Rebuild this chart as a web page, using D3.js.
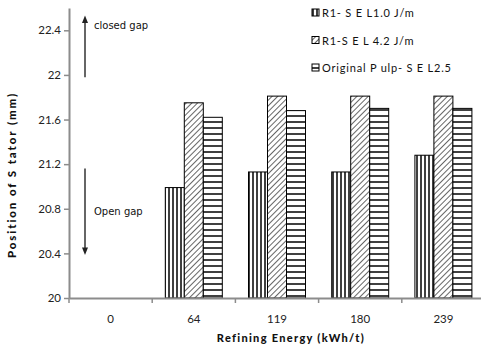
<!DOCTYPE html>
<html>
<head>
<meta charset="utf-8">
<script src="https://cdn.jsdelivr.net/npm/d3@7"></script>
<style>
  html, body { margin: 0; padding: 0; background: #fff; }
  svg { display: block; }
</style>
</head>
<body>
<svg id="chart" width="481" height="351"></svg>
<script>
// Refining energy categories (kWh/t)
const categories = ["0", "64", "119", "180", "239"];
// Stator position (mm) per series; 0 kWh/t has no measurement
const seriesNames = ["R1- S E L1.0 J/m", "R1-S E L 4.2 J/m", "Original P ulp- S E L2.5"];
const sel10 = [null, 20.99, 21.13, 21.13, 21.28];
const sel42 = [null, 21.75, 21.81, 21.81, 21.81];
const original = [null, 21.62, 21.68, 21.70, 21.70];
const yTicks = [20, 20.4, 20.8, 21.2, 21.6, 22, 22.4];
const seriesValues = [sel10, sel42, original];
const patternIds = ["pVert", "pDiag", "pHoriz"];

const svg = d3.select("#chart");
const margin = { left: 69, top: 8, right: -4, bottom: 53 };
const W = 481, H = 351;

// Fill patterns
const defs = svg.append("defs");
const pv = defs.append("pattern").attr("id", "pVert").attr("patternUnits", "userSpaceOnUse")
  .attr("width", 4).attr("height", 4);
pv.append("rect").attr("width", 4).attr("height", 4).attr("fill", "#fff");
pv.append("line").attr("x1", 1).attr("x2", 1).attr("y1", 0).attr("y2", 4)
  .attr("stroke", "#000").attr("stroke-width", 1.5);
const pd = defs.append("pattern").attr("id", "pDiag").attr("patternUnits", "userSpaceOnUse")
  .attr("width", 4).attr("height", 4).attr("patternTransform", "rotate(45)");
pd.append("rect").attr("width", 4).attr("height", 4).attr("fill", "#fff");
pd.append("line").attr("x1", 0).attr("x2", 0).attr("y1", 0).attr("y2", 4)
  .attr("stroke", "#000").attr("stroke-width", 1.2);
const ph = defs.append("pattern").attr("id", "pHoriz").attr("patternUnits", "userSpaceOnUse")
  .attr("width", 6).attr("height", 6);
ph.append("rect").attr("width", 6).attr("height", 6).attr("fill", "#fff");
ph.append("line").attr("x1", 0).attr("x2", 6).attr("y1", 2).attr("y2", 2)
  .attr("stroke", "#000").attr("stroke-width", 1.5);

const x = d3.scaleBand().domain(categories)
  .range([margin.left, W - margin.right]).paddingInner(0).paddingOuter(0);
const y = d3.scaleLinear().domain([20, 22.6]).range([H - margin.bottom, margin.top]);
const barW = 19;
const xs = d3.scaleBand().domain(d3.range(3)).range([0, barW * 3]);

// Bars
seriesValues.forEach((vals, si) => {
  svg.append("g").selectAll("rect")
    .data(categories.map((c, i) => ({ c, v: vals[i] })).filter(d => d.v != null))
    .join("rect")
    .attr("x", d => x(d.c) + x.bandwidth() / 2 - barW * 1.5 + xs(si))
    .attr("y", d => y(d.v))
    .attr("width", xs.bandwidth())
    .attr("height", d => y(20) - y(d.v))
    .attr("fill", `url(#${patternIds[si]})`)
    .attr("stroke", "#000")
    .attr("stroke-width", 1);
});

const tickFont = "Lato, 'Open Sans', sans-serif";

// Y axis
const yAxis = svg.append("g").attr("transform", `translate(${margin.left},0)`)
  .call(d3.axisLeft(y).tickValues(yTicks).tickSize(5).tickSizeOuter(0).tickFormat(d3.format("~g")));
yAxis.select(".domain").attr("stroke", "#8c8c8c").attr("stroke-width", 2);
yAxis.selectAll(".tick line").attr("stroke", "#8c8c8c").attr("stroke-width", 1.5);
yAxis.selectAll(".tick text").attr("fill", "#222").attr("font-family", tickFont)
  .attr("font-size", 11.5).attr("x", -8);

// X axis
const xAxis = svg.append("g").attr("transform", `translate(0,${y(20)})`)
  .call(d3.axisBottom(x).tickSize(0).tickSizeOuter(0));
xAxis.select(".domain").attr("stroke", "#8c8c8c").attr("stroke-width", 2);
xAxis.selectAll(".tick text").attr("fill", "#222").attr("font-family", tickFont)
  .attr("font-size", 11.5).attr("dy", "1.9em");
// Category boundary ticks
svg.append("g").selectAll("line")
  .data(categories)
  .join("line")
  .attr("x1", d => x(d)).attr("x2", d => x(d))
  .attr("y1", y(20)).attr("y2", y(20) + 5)
  .attr("stroke", "#8c8c8c").attr("stroke-width", 1.5);

// Axis titles
svg.append("text")
  .attr("transform", "translate(16,175) rotate(-90)")
  .attr("text-anchor", "middle")
  .attr("font-family", tickFont).attr("font-weight", "900").attr("font-size", 11.5)
  .attr("letter-spacing", 1.9).attr("fill", "#111")
  .text("Position of S tator (mm)");
svg.append("text")
  .attr("x", 291).attr("y", 342)
  .attr("text-anchor", "middle")
  .attr("font-family", tickFont).attr("font-weight", "900").attr("font-size", 11)
  .attr("letter-spacing", 1.3).attr("fill", "#111")
  .text("Refining Energy (kWh/t)");

// Gap direction arrows
defs.append("marker").attr("id", "arrowHead").attr("viewBox", "0 0 10 10")
  .attr("refX", 5).attr("refY", 5).attr("markerWidth", 5).attr("markerHeight", 5)
  .attr("orient", "auto")
  .append("path").attr("d", "M0,1 L10,5 L0,9 Z").attr("fill", "#222");
const arrowX = 85;
svg.append("line").attr("x1", arrowX).attr("x2", arrowX)
  .attr("y1", y(21.98)).attr("y2", y(22.5))
  .attr("stroke", "#333").attr("stroke-width", 1.5).attr("marker-end", "url(#arrowHead)");
svg.append("line").attr("x1", arrowX).attr("x2", arrowX)
  .attr("y1", y(21.16)).attr("y2", y(20.42))
  .attr("stroke", "#333").attr("stroke-width", 1.5).attr("marker-end", "url(#arrowHead)");
svg.append("text").attr("x", 94).attr("y", 29)
  .attr("font-family", "'DejaVu Sans', Verdana, sans-serif").attr("font-size", 10)
  .attr("fill", "#111").text("closed gap");
svg.append("text").attr("x", 94).attr("y", 215)
  .attr("font-family", "'DejaVu Sans', Verdana, sans-serif").attr("font-size", 10)
  .attr("fill", "#111").text("Open gap");

// Legend
const legend = svg.append("g").attr("transform", "translate(312,0)");
seriesNames.forEach((name, i) => {
  const ly = 13 + i * 27.5;
  legend.append("rect").attr("x", 0).attr("y", ly - 4).attr("width", 7).attr("height", 7)
    .attr("fill", `url(#${patternIds[i]})`).attr("stroke", "#000").attr("stroke-width", 1);
  legend.append("text").attr("x", 10).attr("y", ly + 4)
    .attr("font-family", tickFont).attr("font-size", 11).attr("fill", "#111")
    .attr("letter-spacing", 0.8)
    .text(name);
});
</script>
</body>
</html>
